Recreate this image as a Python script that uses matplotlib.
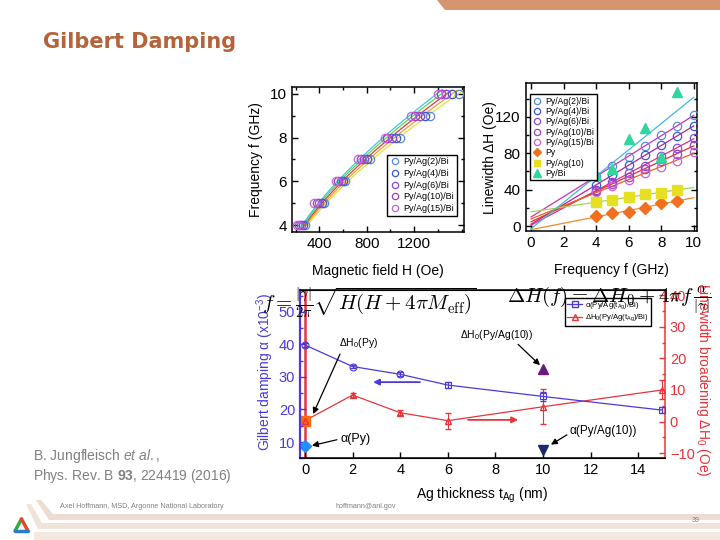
import numpy as np
import matplotlib
matplotlib.use('Agg')
import matplotlib.pyplot as plt
from matplotlib.patches import Polygon
from matplotlib.lines import Line2D

plt.rcParams['font.family'] = ['Liberation Sans', 'DejaVu Sans']
plt.rcParams['mathtext.fontset'] = 'custom'
plt.rcParams['mathtext.rm'] = 'Liberation Sans'
plt.rcParams['mathtext.it'] = 'Liberation Sans:italic'
plt.rcParams['mathtext.bf'] = 'Liberation Sans:bold'

# ---------------- data ----------------
# resonance: frequency (GHz) vs field (Oe)
freq_res = [4, 5, 6, 7, 8, 9, 10]
h_ag2 = [280, 440, 620, 830, 1080, 1330, 1580]
h_ag4 = [262, 420, 600, 805, 1045, 1290, 1520]
h_ag6 = [245, 400, 580, 780, 1010, 1250, 1470]
h_ag10 = [228, 378, 560, 755, 975, 1210, 1430]
h_ag15 = [210, 355, 540, 730, 950, 1170, 1400]
labels_bi = ['Py/Ag(2)/Bi', 'Py/Ag(4)/Bi', 'Py/Ag(6)/Bi', 'Py/Ag(10)/Bi', 'Py/Ag(15)/Bi']

# linewidth (Oe) vs frequency (GHz)
freq_lw = [4, 5, 6, 7, 8, 9, 10]
lw_ag2 = [55, 66, 76, 88, 100, 110, 122]
lw_ag4 = [45, 56, 67, 78, 89, 99, 110]
lw_ag6 = [40, 48, 58, 66, 77, 86, 97]
lw_ag10 = [39, 46, 54, 63, 72, 79, 89]
lw_ag15 = [37, 44, 51, 58, 65, 72, 81]
freq_ref = [4, 5, 6, 7, 8, 9]
lw_py = [11, 14, 15, 20, 25, 28]
lw_py_ag10 = [26, 29, 32, 35, 36, 40]
lw_py_bi = [56, 63, 96, 108, 76, 147]

# damping and inhomogeneous broadening vs Ag thickness
t_ag = [0, 2, 4, 6, 10, 15]
alpha_bi = [39.8, 33.2, 30.8, 27.5, 24.0, 19.8]
alpha_err = [0.5, 0.5, 0.6, 0.8, 1.5, 1.0]
dh0_bi = [0.3, 8.4, 2.8, 0.3, 4.7, 10.0]
dh0_err = [0.5, 0.7, 0.8, 2.5, 5.5, 3.0]
alpha_py = 8.8
dh0_py = 0.2
dh0_py_err = 60
alpha_py_ag10 = 7.4
dh0_py_ag10 = 16.5

# ---------------- styles ----------------
W, H = 720, 540
circ_cols = ['#5a8ad8', '#3a5ac8', '#8a4ad8', '#a040c0', '#c860d8']
kittel_cols = ['#e6e040', '#f0a030', '#e03a3a', '#60d060', '#40c8d8']
lin_cols = ['#d030b0', '#c02090', '#e0307a', '#e03030', '#f06020']
blue = '#4a3ad8'
red = '#e8343a'
gray = '#808080'

fig = plt.figure(figsize=(7.2, 5.4), dpi=100)


def px_axes(x0, y0, x1, y1, **kw):
    return fig.add_axes([x0 / W, 1 - y1 / H, (x1 - x0) / W, (y1 - y0) / H], **kw)


# slide decoration
bg = px_axes(0, 0, W, H, zorder=-5)
bg.set_xlim(0, W)
bg.set_ylim(H, 0)
bg.axis('off')
bg.add_patch(Polygon([(437, 0), (720, 0), (720, 10), (445, 10)], closed=True,
                     color='#d4956f', lw=0))
bg.add_patch(Polygon([(36, 500), (41, 500), (53, 514), (720, 514), (720, 520), (49, 520)],
                     closed=True, color='#eddccf', lw=0))
bg.add_patch(Polygon([(26, 504), (31, 504), (42, 523), (720, 523), (720, 529), (38, 529)],
                     closed=True, color='#f1e3d8', lw=0))
bg.add_patch(Polygon([(34, 532), (720, 532), (720, 540), (34, 540)],
                     closed=True, color='#f3e7de', lw=0))
bg.plot([15, 21.5], [531, 519], color='#3aa845', lw=2.5, solid_capstyle='round')
bg.plot([21.5, 28], [519, 531], color='#e04a2a', lw=2.5, solid_capstyle='round')
bg.plot([15, 28], [531, 531], color='#2a7ad0', lw=2.5, solid_capstyle='round')
bg.text(43, 42, 'Gilbert Damping', color='#b4633a', fontsize=15, weight='bold',
        family='DejaVu Sans', va='center', ha='left')
bg.text(33, 456, r'B. Jungfleisch $\mathit{et\ al.}$,', color=gray, fontsize=10, va='center')
bg.text(33, 476, r'Phys. Rev. B $\mathbf{93}$, 224419 (2016)', color=gray, fontsize=10,
        va='center')
bg.text(60, 506, 'Axel Hoffmann, MSD, Argonne National Laboratory', color=gray,
        fontsize=5.2, va='center')
bg.text(336, 506, 'hoffmann@anl.gov', color=gray, fontsize=5.2, va='center')
bg.text(692, 521, '39', color=gray, fontsize=5, va='center')


def style(ax, both=True):
    ax.tick_params(direction='in', which='both', top=both, right=both, labelsize=11,
                   length=4, width=1)
    ax.tick_params(which='minor', length=2)
    for s in ax.spines.values():
        s.set_linewidth(1.1)


leg_kw = dict(frameon=True, fancybox=False, edgecolor='k', framealpha=1, borderpad=0.3,
              handletextpad=0.4, handlelength=1.1, markerscale=0.75)

# ---------------- top left: f vs H ----------------
ax1 = px_axes(292, 87, 464, 232)
g = 2.8e-3
f_arr = np.array(freq_res, dtype=float)
for hs, c, kc, lab in zip([h_ag2, h_ag4, h_ag6, h_ag10, h_ag15], circ_cols,
                          kittel_cols, labels_bi):
    hh = np.array(hs, dtype=float)
    meff = np.sum(hh * (f_arr ** 2 / g ** 2 - hh ** 2)) / np.sum(hh ** 2)
    hfit = np.linspace(hh.min() + 20, hh.max() + 40, 100)
    ax1.plot(hfit, g * np.sqrt(hfit * (hfit + meff)), color=kc, lw=0.9, zorder=2)
    ax1.plot(hs, freq_res, 'o', mfc='none', mec=c, ms=6, mew=0.9, label=lab, zorder=3)
ax1.set_xlim(170, 1620)
ax1.set_ylim(3.7, 10.3)
ax1.set_xticks([400, 800, 1200])
ax1.set_xticks(np.arange(200, 1601, 200), minor=True)
ax1.set_yticks([4, 6, 8, 10])
ax1.set_yticks([5, 7, 9], minor=True)
style(ax1)
ax1.set_xlabel('Magnetic field H (Oe)', fontsize=10)
ax1.set_ylabel('Frequency f (GHz)', fontsize=10)
ax1.xaxis.set_label_coords(0.5, -0.22)
ax1.yaxis.set_label_coords(-0.17, 0.5)
ax1.legend(loc='lower right', bbox_to_anchor=(0.985, 0.08), fontsize=6.5,
           labelspacing=0.3, **leg_kw)

# ---------------- top right: linewidth vs f ----------------
ax2 = px_axes(525.5, 83.3, 697, 231)
fl = np.linspace(0, 10, 2)
for ys, c, lc, lab in zip([lw_ag2, lw_ag4, lw_ag6, lw_ag10, lw_ag15], circ_cols,
                          lin_cols, labels_bi):
    p = np.polyfit(freq_lw, ys, 1)
    ax2.plot(fl, np.polyval(p, fl), color=lc, lw=0.9, zorder=2)
    ax2.plot(freq_lw, ys, 'o', mfc='none', mec=c, ms=6, mew=0.9, label=lab, zorder=3)
for ys, lc in zip([lw_py, lw_py_ag10, lw_py_bi], ['#f08a30', '#9ad860', '#40b8e0']):
    p = np.polyfit(freq_ref, ys, 1)
    ax2.plot(fl, np.polyval(p, fl), color=lc, lw=0.9, zorder=2)
ax2.plot(freq_ref, lw_py, 'D', color='#f07020', ms=6, label='Py', zorder=4)
ax2.plot(freq_ref, lw_py_ag10, 's', color='#e6e022', ms=6.5, label='Py/Ag(10)', zorder=4)
ax2.plot(freq_ref, lw_py_bi, '^', color='#2fd6a0', ms=7, label='Py/Bi', zorder=4)
ax2.set_xlim(-0.34, 10.2)
ax2.set_ylim(-5.5, 157)
ax2.set_xticks(range(0, 11, 2))
ax2.set_yticks([0, 40, 80, 120])
ax2.set_yticks([20, 60, 100, 140], minor=True)
style(ax2)
ax2.set_xlabel('Frequency f (GHz)', fontsize=10)
ax2.set_ylabel('Linewidth ΔH (Oe)', fontsize=10)
ax2.xaxis.set_label_coords(0.5, -0.22)
ax2.yaxis.set_label_coords(-0.165, 0.5)
ax2.legend(loc='upper left', bbox_to_anchor=(0.0, 0.955), fontsize=6.2,
           labelspacing=0.15, **leg_kw)

# ---------------- bottom: alpha and dH0 vs t_Ag ----------------
ax3 = px_axes(300, 290, 665, 458.3)
ax4 = ax3.twinx()
ax3.set_zorder(ax4.get_zorder() + 1)
ax3.patch.set_visible(False)

ax4.plot(t_ag, dh0_bi, color=red, lw=0.9)
ax4.errorbar(t_ag, dh0_bi, yerr=dh0_err, fmt='^', mfc='none', mec=red, ms=5,
             ecolor=red, elinewidth=0.8, capsize=2.5)
ax4.errorbar([0], [dh0_py], yerr=dh0_py_err, fmt='none', ecolor=red, elinewidth=1.8)
ax4.plot([0], [dh0_py], 's', color='#ff6a10', ms=7)
ax4.plot([10], [dh0_py_ag10], '^', color='#6a1a7a', ms=7)

ax3.plot(t_ag, alpha_bi, color=blue, lw=0.9)
ax3.errorbar(t_ag, alpha_bi, yerr=alpha_err, fmt='none', ecolor=blue, elinewidth=0.8,
             capsize=2.5)
for t, a, m in zip(t_ag, alpha_bi, ['o', 'o', 'o', 's', 's', 's']):
    ax3.plot(t, a, m, mfc='none', mec=blue, ms=5, mew=0.8)
ax3.plot([0], [alpha_py], 'D', color='#1e90ff', ms=6)
ax3.plot([10], [alpha_py_ag10], 'v', color='#1a2a6a', ms=7)

ax3.set_xlim(-0.21, 15.12)
ax3.set_ylim(5.4, 56.7)
ax4.set_ylim(-11.6, 41.6)
ax3.set_xticks(range(0, 15, 2))
ax3.set_yticks([10, 20, 30, 40, 50])
ax3.set_yticks(np.arange(5, 56, 5), minor=True)
ax4.set_yticks([-10, 0, 10, 20, 30, 40])
ax4.set_yticks(np.arange(-5, 41, 10), minor=True)
ax3.tick_params(direction='in', which='both', right=False, top=False, labelsize=10.5,
                length=4, width=1)
ax3.tick_params(axis='y', which='both', colors=blue)
ax3.tick_params(which='minor', length=2)
ax4.tick_params(direction='in', which='both', labelsize=10.5, length=4, width=1, colors=red)
ax4.tick_params(which='minor', length=2)
for s in ax3.spines.values():
    s.set_linewidth(1.1)
ax3.spines['left'].set_color(blue)
ax3.spines['left'].set_linewidth(1.6)
ax3.spines['right'].set_visible(False)
ax4.spines['left'].set_visible(False)
ax4.spines['right'].set_color(red)
ax4.spines['right'].set_linewidth(1.1)

ax3.set_xlabel(r'Ag thickness t$_\mathrm{Ag}$ (nm)', fontsize=10)
ax3.xaxis.set_label_coords(0.5, -0.165)
ax3.set_ylabel(r'Gilbert damping α (x10$^\mathrm{-3}$)', fontsize=10, color=blue)
ax3.yaxis.set_label_coords(-0.065, 0.51)
ax4.set_ylabel(r'Linewidth broadening ΔH$_\mathrm{0}$ (Oe)', fontsize=10, color=red,
               rotation=270)
ax4.yaxis.set_label_coords(1.13, 0.465)

arrow = dict(arrowstyle='-|>', color='k', lw=0.9, mutation_scale=9, shrinkA=0, shrinkB=0)
ax3.text(2.27, 40.5, r'ΔH$_\mathrm{0}$(Py)', fontsize=7.5, ha='center', va='center')
ax3.annotate('', xy=(0.34, 18.6), xytext=(1.47, 37.0), arrowprops=arrow)
ax3.text(1.5, 11.0, 'α(Py)', fontsize=9, ha='left', va='center')
ax3.annotate('', xy=(0.29, 8.9), xytext=(1.34, 10.7), arrowprops=arrow)
ax3.text(8.06, 43.0, r'ΔH$_\mathrm{0}$(Py/Ag(10))', fontsize=7.5, ha='center', va='center')
ax3.annotate('', xy=(9.87, 33.6), xytext=(8.95, 40.0), arrowprops=arrow)
ax3.text(11.13, 13.5, 'α(Py/Ag(10))', fontsize=8.5, ha='left', va='center')
ax3.annotate('', xy=(10.33, 9.2), xytext=(11.0, 12.2), arrowprops=arrow)
ax3.annotate('', xy=(2.86, 28.4), xytext=(4.83, 28.4),
             arrowprops=dict(arrowstyle='-|>', color=blue, lw=1.3, mutation_scale=9,
                             shrinkA=0, shrinkB=0))
ax3.annotate('', xy=(8.95, 16.8), xytext=(6.85, 16.8),
             arrowprops=dict(arrowstyle='-|>', color=red, lw=1.3, mutation_scale=9,
                             shrinkA=0, shrinkB=0))

handles = [Line2D([], [], color=blue, marker='s', mfc='none', ms=4, lw=0.9),
           Line2D([], [], color=red, marker='^', mfc='none', ms=4, lw=0.9)]
ax3.legend(handles, [r'α(Py/Ag(t$_\mathrm{Ag}$)/Bi)', r'ΔH$_\mathrm{0}$(Py/Ag(t$_\mathrm{Ag}$)/Bi)'],
           loc='upper left', bbox_to_anchor=(0.715, 0.975), fontsize=5.5, frameon=True,
           fancybox=False, edgecolor='k', framealpha=1, borderpad=0.3, labelspacing=0.2,
           handletextpad=0.3, handlelength=2.0)

# formulas pasted over the slide
fig.text(262 / W, 1 - 303 / H, r'$f=\frac{|\gamma|}{2\pi}\sqrt{H(H+4\pi M_{\mathrm{eff}})}$',
         fontsize=15, math_fontfamily='cm', ha='left', va='center', zorder=10)
fig.text(507 / W, 1 - 300 / H, r'$\Delta H(f)=\Delta H_0+4\pi f\,\frac{\alpha}{|\gamma|}$',
         fontsize=15, math_fontfamily='cm', ha='left', va='center', zorder=10)

fig.savefig('out.png', dpi=100)
